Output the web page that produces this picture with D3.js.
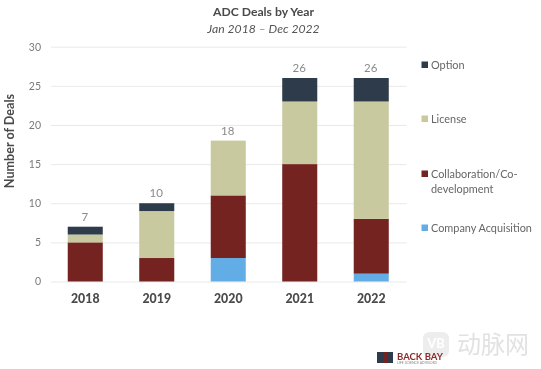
<!DOCTYPE html>
<html>
<head>
<meta charset="utf-8">
<script src="https://cdnjs.cloudflare.com/ajax/libs/d3/7.8.5/d3.min.js"></script>
<style>
html,body{margin:0;padding:0;background:#fff;}
svg{display:block;font-family:Lato,"Open Sans",sans-serif;filter:blur(0.3px);}
</style>
</head>
<body>
<div id="chart"></div>
<script>
const years = ["2018","2019","2020","2021","2022"];
const seriesNames = ["Company Acquisition","Collaboration/Co-development","License","Option"];
const companyAcquisition = [0,0,3,0,1];
const collaboration = [5,3,8,15,7];
const license = [1,6,7,8,15];
const option = [1,1,0,3,3];
const totals = [7,10,18,26,26];
const yTicks = [0,5,10,15,20,25,30];
const seriesColors = ["#63ADE6","#752320","#C8C99E","#2D3B4A"];
const legendOrder = ["Option","License","Collaboration/Co-development","Company Acquisition"];
const legendLines = [["Option"],["License"],["Collaboration/Co-","development"],["Company Acquisition"]];

const width = 541, height = 369;
const svg = d3.select("#chart").append("svg").attr("width",width).attr("height",height);

const x = d3.scaleBand().domain(years).range([49.5,407]).paddingInner(0.51).paddingOuter(0.255);
const y = d3.scaleLinear().domain([0,30]).range([281.5,46.7]);

const table = years.map((yr,i)=>({year:yr,
  "Company Acquisition":companyAcquisition[i],
  "Collaboration/Co-development":collaboration[i],
  "License":license[i],
  "Option":option[i]}));
const stack = d3.stack().keys(seriesNames)(table);
const color = d3.scaleOrdinal().domain(seriesNames).range(seriesColors);

// grid + y axis
const gAxis = svg.append("g").attr("transform","translate(51,0)").call(d3.axisLeft(y).tickValues(yTicks).tickSize(-355.5).tickPadding(10));
gAxis.select(".domain").remove();
gAxis.selectAll(".tick line").attr("stroke","#E9E9EA").attr("stroke-width",1);
gAxis.selectAll(".tick text").attr("fill","#7A7A7A").style("font-size","10.5px").style("font-family","Lato");

// bars
svg.append("g").selectAll("g").data(stack).join("g")
  .attr("fill",d=>color(d.key))
  .selectAll("rect").data(d=>d).join("rect")
  .attr("x",d=>x(d.data.year))
  .attr("y",d=>y(d[1]))
  .attr("width",x.bandwidth())
  .attr("height",d=>y(d[0])-y(d[1]));

// totals
svg.append("g").selectAll("text").data(years).join("text")
  .attr("x",d=>x(d)+x.bandwidth()/2-0.5)
  .attr("y",(d,i)=>y(totals[i])-6)
  .attr("text-anchor","middle")
  .attr("fill","#8A8A8A")
  .style("font-size","11.5px")
  .text((d,i)=>totals[i]);

// x labels
const gx = svg.append("g").attr("transform","translate(0,281.5)").call(d3.axisBottom(x).tickSize(0).tickPadding(13));
gx.select(".domain").remove();
gx.selectAll(".tick text").attr("fill","#4A4A4A").attr("font-weight","900").style("font-size","12.3px").style("font-family","Lato");

// titles
svg.append("text").attr("x",263.5).attr("y",16).attr("text-anchor","middle").attr("fill","#4A4A4A").attr("font-weight","700").style("font-size","12.2px").text("ADC Deals by Year");
svg.append("text").attr("x",263.5).attr("y",32.5).attr("text-anchor","middle").attr("fill","#555").attr("font-style","italic").style("font-size","12.2px").text("Jan 2018 – Dec 2022");
svg.append("text").attr("transform","translate(14,141) rotate(-90)").attr("text-anchor","middle").attr("fill","#4A4A4A").attr("font-weight","700").style("font-size","12.6px").text("Number of Deals");

// legend
const legendY = [65,119,174,228];
const lg = svg.append("g").selectAll("g").data(legendOrder).join("g");
lg.append("rect").attr("x",421.5).attr("y",(d,i)=>legendY[i]-3.5).attr("width",6.5).attr("height",6.5).attr("fill",d=>color(d));
lg.each(function(d,i){
  const g = d3.select(this);
  legendLines[i].forEach((line,j)=>{
    g.append("text").attr("x",431).attr("y",legendY[i]+4+j*14.7).attr("fill","#666").style("font-size","10.9px").text(line);
  });
});

// watermark
svg.append("rect").attr("x",423).attr("y",332).attr("width",26).attr("height",25).attr("rx",6).attr("fill","#EDEDED");
svg.append("text").attr("x",436).attr("y",348).attr("text-anchor","middle").attr("fill","#fff").attr("font-weight","700").style("font-size","13px").text("VB");
svg.append("text").attr("x",457).attr("y",353).attr("fill","#E2E2E2").style("font-family","'Noto Sans CJK SC'").style("font-size","24px").text("动脉网");

// logo
const logo = svg.append("g");
logo.append("rect").attr("x",377).attr("y",352).attr("width",16).attr("height",11).attr("fill","#2D3B4A");
logo.append("rect").attr("x",384).attr("y",352).attr("width",3).attr("height",11).attr("fill","#752320");
logo.append("text").attr("x",397).attr("y",359.5).attr("fill","#8E2A2A").attr("font-weight","700").style("font-size","9.5px").text("BACK BAY");
logo.append("text").attr("x",397).attr("y",364).attr("fill","#888").style("font-size","3.5px").text("LIFE SCIENCE ADVISORS");
</script>
</body>
</html>
